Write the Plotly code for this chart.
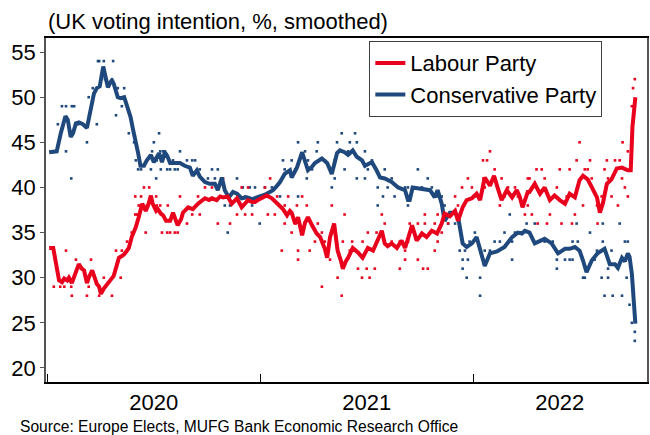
import pandas as pd
import plotly.graph_objects as go

BASE = pd.Timestamp("2020-01-01")

# ---- smoothed series (days since 2020-01-01, %)
labour_days = [2, 9, 14, 19, 24, 28, 33, 36, 41, 48, 53, 58, 62, 67, 70, 76, 81, 84, 88, 91,
               96, 100, 105, 108, 113, 117, 122, 127, 131, 136, 139, 144, 151, 156, 162, 168, 172, 177, 180, 186,
               189, 194, 198, 203, 210, 215, 220, 223, 229, 232, 241, 249, 258, 263, 270, 277, 282, 290, 296, 301,
               309, 316, 325, 333, 339, 344, 351, 356, 361, 368, 376, 385, 390, 395, 404, 411, 416, 419, 425, 430,
               437, 442, 447, 454, 462, 468, 471, 476, 480, 485, 492, 495, 498, 504, 507, 512, 516, 524, 533, 541,
               550, 559, 567, 574, 579, 584, 591, 600, 608, 614, 619, 626, 634, 643, 651, 660, 669, 677, 682, 691,
               700, 705, 713, 720, 729, 737, 743, 751, 760, 767, 773, 780, 789, 798, 806, 811, 816, 825, 828, 837,
               846, 854, 863, 871, 880, 889, 897, 906, 914, 920, 928, 935, 944, 949, 954, 961, 969, 978, 987, 997,
               1002, 1005, 1010]
labour_vals = [33.3, 33.3, 31.5, 29.7, 29.5, 29.9, 29.7, 30.0, 29.4, 30.5, 31.5, 31.0, 30.8, 29.4, 30.0, 30.8, 30.0, 29.3, 29.0, 28.2,
               28.8, 29.1, 29.5, 29.7, 30.2, 31.1, 32.2, 32.4, 32.6, 33.0, 33.3, 34.5, 35.6, 36.7, 38.2, 37.4, 38.0, 39.1, 38.2, 37.4,
               37.6, 37.1, 36.9, 36.3, 36.3, 37.2, 36.4, 35.8, 36.5, 37.2, 37.8, 37.6, 38.2, 38.5, 38.8, 38.6, 38.8, 38.6, 39.0, 38.9,
               39.0, 38.2, 38.8, 37.8, 38.2, 38.6, 38.4, 38.4, 38.6, 38.8, 39.1, 38.8, 38.5, 38.2, 37.6, 36.9, 37.4, 37.2, 36.0, 36.7,
               34.7, 36.1, 36.7, 35.8, 34.9, 34.5, 34.1, 33.2, 32.2, 34.5, 36.0, 34.8, 33.0, 31.8, 31.0, 31.8, 32.2, 33.3, 32.8, 32.2,
               33.3, 33.0, 34.1, 35.2, 33.8, 33.5, 33.8, 33.3, 34.1, 33.3, 34.3, 35.8, 34.1, 34.9, 34.5, 35.2, 34.9, 36.0, 37.1, 36.8,
               37.4, 36.3, 37.8, 38.6, 38.8, 39.3, 38.6, 41.1, 40.2, 41.3, 40.0, 38.6, 39.7, 38.9, 39.7, 39.0, 37.8, 39.5, 39.5, 40.4,
               39.3, 40.0, 38.6, 39.1, 38.6, 38.2, 39.3, 38.9, 40.8, 41.3, 40.9, 40.0, 38.9, 37.2, 38.2, 40.4, 40.9, 42.1, 42.2, 41.9,
               41.9, 46.7, 50.0]

cons_days = [2, 9, 15, 22, 30, 34, 39, 43, 48, 53, 60, 67, 72, 76, 79, 84, 89, 95, 98, 103,
             107, 110, 113, 116, 120, 125, 131, 136, 142, 146, 151, 155, 159, 165, 170, 177, 182, 191, 196, 201,
             205, 210, 218, 227, 235, 244, 249, 256, 261, 270, 278, 287, 292, 299, 304, 311, 318, 325, 333, 342,
             351, 358, 364, 373, 380, 387, 394, 399, 407, 416, 419, 428, 437, 442, 447, 454, 459, 471, 480, 488,
             497, 502, 510, 516, 524, 531, 540, 545, 552, 557, 565, 571, 579, 591, 602, 608, 614, 619, 622, 627,
             636, 643, 650, 657, 665, 670, 677, 682, 691, 700, 705, 708, 713, 720, 729, 737, 743, 751, 760, 772,
             785, 798, 808, 815, 820, 828, 837, 846, 854, 866, 877, 889, 897, 906, 914, 920, 926, 935, 945, 957,
             966, 975, 980, 987, 992, 997, 1000, 1004, 1007, 1010]
cons_vals = [43.9, 43.9, 44.0, 46.0, 47.9, 47.5, 45.6, 46.0, 47.1, 47.2, 47.0, 46.6, 48.2, 50.0, 50.4, 51.0, 51.2, 53.4, 52.5, 51.1,
             51.6, 51.9, 51.5, 50.8, 50.0, 49.9, 50.0, 49.0, 47.8, 46.5, 45.2, 43.8, 42.4, 42.4, 43.0, 43.6, 42.8, 43.8, 42.8, 43.9,
             43.5, 42.7, 42.7, 42.7, 42.4, 42.2, 41.3, 41.9, 41.2, 40.6, 40.4, 40.4, 39.7, 41.1, 39.7, 38.9, 39.5, 39.3, 38.8, 38.9,
             38.7, 38.9, 39.0, 39.2, 39.4, 39.7, 40.2, 40.6, 41.5, 41.9, 41.1, 42.2, 43.9, 43.0, 41.9, 42.3, 42.7, 43.2, 42.7, 41.5,
             43.8, 44.1, 43.9, 43.6, 44.1, 43.4, 43.0, 42.4, 42.6, 42.8, 41.9, 41.1, 41.0, 40.6, 40.0, 39.9, 39.7, 38.6, 38.6, 40.0,
             39.9, 39.9, 39.8, 39.7, 38.9, 39.7, 38.2, 36.3, 37.2, 37.2, 36.8, 35.8, 33.8, 33.4, 33.8, 34.5, 33.0, 31.3, 32.7, 32.9,
             33.4, 34.5, 35.0, 34.9, 35.2, 35.0, 33.8, 34.1, 34.3, 33.8, 32.7, 33.2, 33.2, 33.4, 33.0, 31.9, 30.6, 31.9, 32.7, 33.2,
             31.5, 31.5, 31.1, 32.2, 31.8, 32.7, 32.3, 30.4, 27.0, 24.9]

# ---- individual polls (days since 2020-01-01, %)
labour_poll_days = [10, 21, 28, 40, 70, 31, 41, 67, 88, 110, 48, 74, 57, 96, 117, 127, 125, 136, 144, 153,
                    156, 160, 150, 165, 174, 170, 186, 187, 193, 206, 168, 196, 205, 150,
                    210, 218, 223, 227, 239, 248, 261, 258, 270, 282, 292, 301, 313, 325, 339, 351, 333, 344, 373, 378,
                    390, 382, 394, 402, 407,
                    413, 437, 428, 445, 488, 407, 425, 464, 419, 471, 459, 476, 430, 450, 430, 471, 505, 498, 507, 523,
                    541, 550, 565, 574, 579, 591, 605, 533, 548, 562, 540, 553, 605, 614, 519, 485, 510,
                    614, 619, 636, 645, 653, 622, 636, 648, 665, 648, 670, 665, 670, 677, 700, 712, 722, 729, 734, 743,
                    748, 749, 751, 760, 755, 768, 780, 777, 785, 791, 803, 808, 825, 825, 705, 688,
                    828, 840, 849, 854, 820, 832, 842, 858, 863, 875, 880, 883, 901, 892, 897, 906, 909, 914, 923, 928,
                    932, 920, 935, 944, 945, 952, 957, 961, 963, 975, 983, 987, 988, 992, 997, 997, 1004, 1006, 1009, 980,
                    969]
labour_poll_vals = [29, 29, 29, 29, 29, 33, 28, 28, 28, 28, 32, 32, 31, 30, 33, 33, 30, 34, 35, 37,
                    38, 39, 39, 40, 40, 38, 39, 38, 38, 38, 35, 35, 35, 37,
                    35, 35, 35, 39, 36, 37, 37, 39, 40, 40, 36, 41, 36, 37, 37, 37, 40, 40, 40, 37,
                    37, 41, 39, 33, 38,
                    39, 39, 38, 38, 38, 36, 36, 36, 35, 35, 34, 34, 33, 33, 32, 29, 28, 30, 34, 34,
                    34, 35, 35, 37, 36, 34, 34, 31, 31, 31, 30, 30, 31, 33, 33, 32, 37,
                    32, 34, 32, 31, 31, 36, 36, 36, 36, 37, 37, 33, 34, 35, 39, 40, 41, 40, 39, 39,
                    43, 41, 40, 44, 43, 42, 41, 38, 39, 40, 40, 39, 41, 38, 38, 36,
                    41, 42, 42, 41, 37, 37, 36, 36, 37, 40, 42, 36, 36, 39, 42, 37, 43, 45, 42, 42,
                    43, 38, 41, 38, 36, 39, 42, 43, 41, 43, 43, 41, 45, 40, 39, 44, 49, 51, 52, 38,
                    39]

cons_poll_days = [7, 15, 17, 24, 31, 41, 31, 40, 45, 52, 67, 70, 77, 84, 86, 88, 96, 112, 98, 110,
                  117, 120, 127, 131, 139, 148, 151, 160, 155, 177, 194, 182, 186, 191, 193, 201, 210, 179, 187, 198,
                  215,
                  227, 239, 248, 205, 218, 223, 282, 292, 275, 287, 309, 325, 335, 347, 356, 304, 313, 364, 373,
                  385, 404, 399, 351, 339, 261, 253,
                  505, 528, 430, 464, 497, 519, 531, 442, 462, 516, 545, 419, 447, 476, 493, 557, 425, 454, 510, 550,
                  579, 445, 493, 531, 545, 591, 567, 584, 602, 614, 488, 430, 576, 596, 567, 619, 407,
                  636, 653, 619, 627, 643, 660, 670, 677, 682, 688, 700, 708, 717, 713, 722, 713, 720, 743, 743, 751,
                  760, 768, 777, 798, 785, 803, 811, 794, 798, 734, 725,
                  823, 828, 837, 854, 868, 875, 889, 897, 902, 875, 909, 902, 911, 920, 923, 944, 954, 954, 940, 952,
                  963, 957, 971, 987, 963, 980, 983, 992, 997, 1000, 1004, 1009, 1009, 932, 969, 995]
cons_poll_vals = [44, 44, 47, 49, 49, 49, 44, 41, 49, 47, 45, 50, 51, 47, 54, 54, 54, 54, 52, 52,
                  48, 51, 49, 51, 46, 45, 43, 42, 42, 42, 42, 45, 41, 46, 44, 44, 42, 44, 43, 44,
                  43,
                  44, 43, 43, 42, 42, 42, 42, 42, 41, 41, 35, 41, 40, 40, 40, 38, 38, 36, 40,
                  40, 43, 39, 38, 39, 42, 43,
                  46, 46, 45, 45, 45, 45, 45, 44, 44, 44, 44, 43, 43, 43, 43, 43, 42, 42, 42, 42,
                  42, 41, 41, 41, 41, 41, 40, 40, 40, 40, 40, 39, 39, 39, 38, 38, 42,
                  42, 41, 40, 40, 40, 40, 39, 39, 38, 36, 36, 33, 33, 32, 32, 31, 30, 30, 28, 33,
                  33, 34, 34, 34, 35, 35, 35, 37, 32, 35, 34,
                  36, 35, 36, 34, 34, 32, 32, 32, 32, 31, 36, 34, 34, 30, 30, 33, 36, 34, 32, 30,
                  30, 28, 28, 28, 31, 31, 36, 34, 34, 27, 25, 24, 23, 35, 33, 30]

series_names = ["Labour Party", "Conservative Party"]
year_labels = ["2020", "2021", "2022"]
year_label_dates = ["2020-07-01", "2021-07-02", "2022-05-30"]
y_ticks = [20, 25, 30, 35, 40, 45, 50, 55]

RED = "#E8001C"
BLUE = "#1F497D"

assert len(labour_days) == len(labour_vals)
assert len(cons_days) == len(cons_vals)
assert len(labour_poll_days) == len(labour_poll_vals)
assert len(cons_poll_days) == len(cons_poll_vals)


def to_dates(days):
    return [BASE + pd.Timedelta(days=d) for d in days]


fig = go.Figure()
fig.add_trace(go.Scatter(x=to_dates(cons_poll_days), y=cons_poll_vals, mode="markers",
                         marker=dict(color=BLUE, size=2.6, symbol="square"), showlegend=False,
                         hoverinfo="skip"))
fig.add_trace(go.Scatter(x=to_dates(labour_poll_days), y=labour_poll_vals, mode="markers",
                         marker=dict(color=RED, size=2.6, symbol="square"), showlegend=False,
                         hoverinfo="skip"))
fig.add_trace(go.Scatter(x=to_dates(cons_days), y=cons_vals, mode="lines", name=series_names[1],
                         line=dict(color=BLUE, width=4), legendrank=2))
fig.add_trace(go.Scatter(x=to_dates(labour_days), y=labour_vals, mode="lines", name=series_names[0],
                         line=dict(color=RED, width=4), legendrank=1))

FONT = "Liberation Sans, Arial, sans-serif"

fig.update_layout(
    width=650, height=435,
    margin=dict(l=46, r=3, t=38, b=53, autoexpand=False),
    paper_bgcolor="white", plot_bgcolor="white",
    font=dict(family=FONT, size=22, color="black"),
    showlegend=True,
    legend=dict(x=0.538, y=0.991, xanchor="left", yanchor="top",
                bgcolor="white", bordercolor="#404040", borderwidth=1,
                font=dict(size=22), tracegroupgap=0, itemwidth=30),
    xaxis=dict(
        type="date",
        range=["2019-12-28 14:00", "2022-10-27"],
        tickmode="array", tickvals=year_label_dates, ticktext=year_labels,
        ticks="", showgrid=False, zeroline=False,
        showline=True, linecolor="black", linewidth=2, mirror=True,
        minor=dict(tick0="2020-01-01", dtick="M12", ticks="inside", ticklen=8,
                   tickcolor="black", tickwidth=1, showgrid=False),
        tickfont=dict(size=22),
    ),
    yaxis=dict(
        range=[18.44, 56.56], tickmode="array", tickvals=y_ticks,
        ticks="outside", ticklen=4, tickcolor="#555555", tickwidth=1,
        showgrid=False, zeroline=False,
        showline=True, linecolor="#555555", linewidth=1.5, mirror=True,
        tickfont=dict(size=22),
    ),
    annotations=[
        dict(text="(UK voting intention, %, smoothed)", xref="paper", yref="paper",
             x=0, y=1.049, xanchor="left", yanchor="middle", showarrow=False,
             font=dict(size=22)),
        dict(text="Source: Europe Elects, MUFG Bank Economic Research Office", xref="paper", yref="paper",
             x=-0.0466, y=-0.128, xanchor="left", yanchor="middle", showarrow=False,
             font=dict(size=15.6)),
    ],
)

fig.write_html("out.html",
               config={"displayModeBar": False},
               post_script="document.body.style.margin='0';document.body.style.padding='0';")
